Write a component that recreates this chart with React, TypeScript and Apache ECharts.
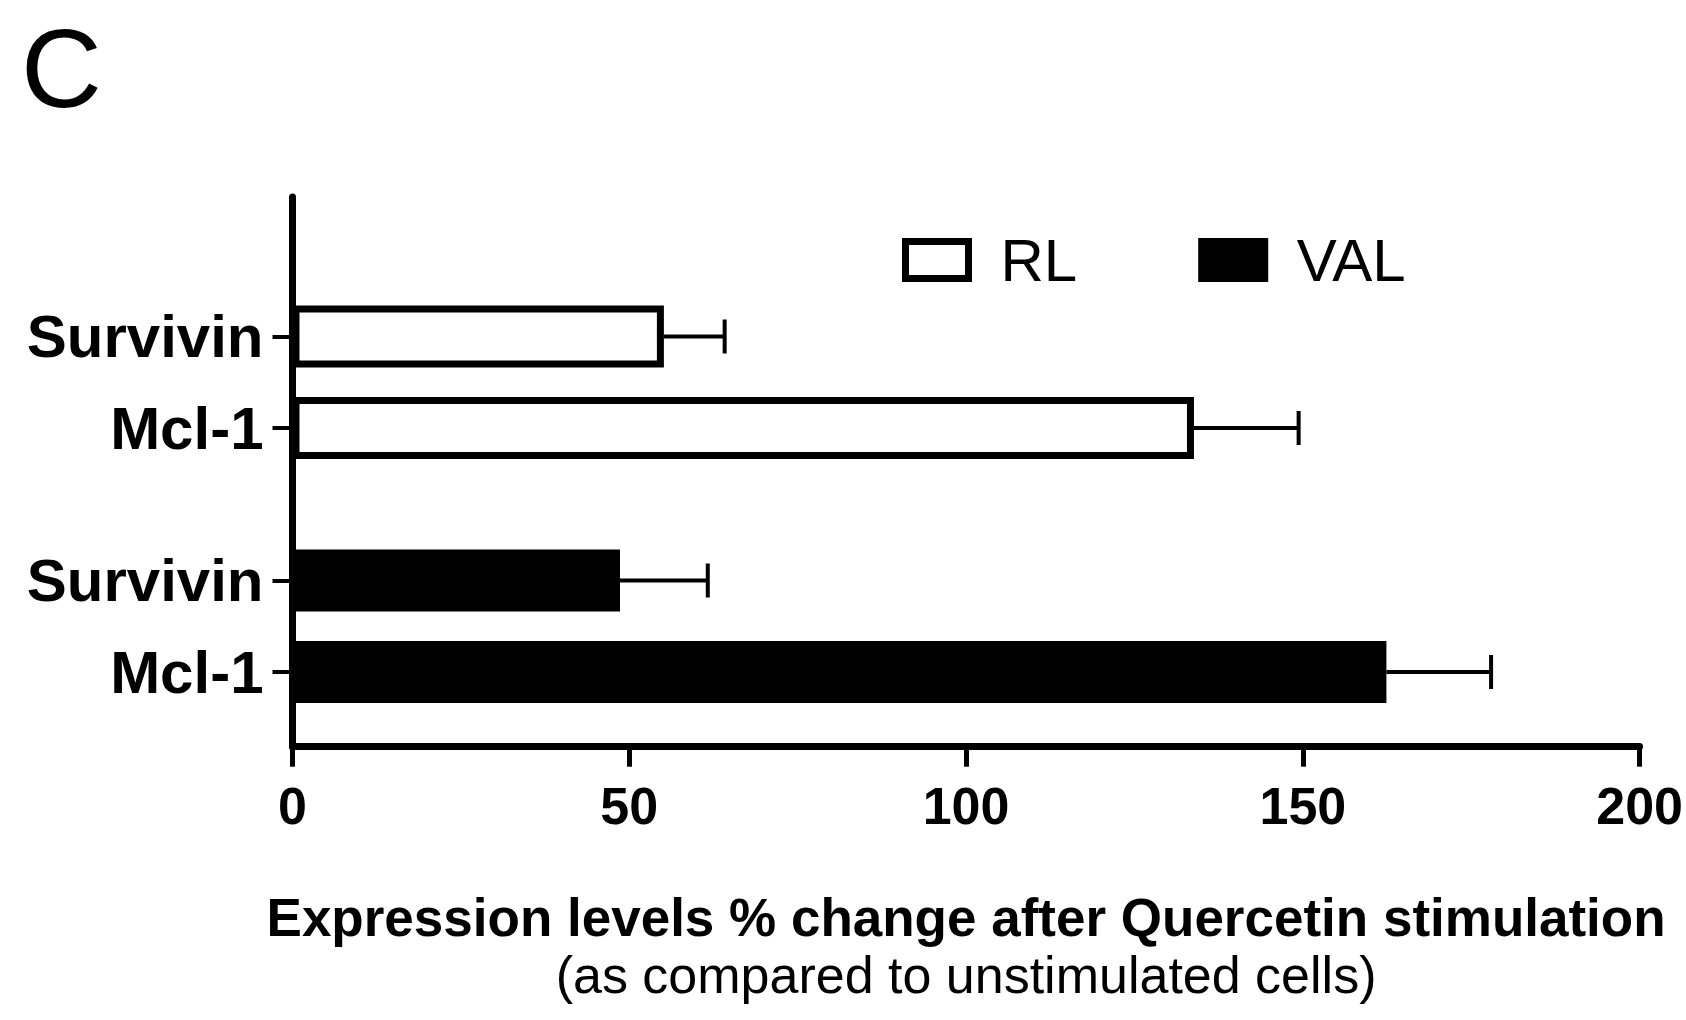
import React, { useEffect, useRef } from "react";
import * as echarts from "echarts";

const RL_CATEGORIES = ["Survivin", "Mcl-1"];
const VAL_CATEGORIES = ["Survivin", "Mcl-1"];
const RL_MEAN = [55, 133.5];
const RL_SEM = [9, 15.5];
const VAL_MEAN = [48.5, 162];
const VAL_SEM = [13, 15.5];
const X_MIN = 0;
const X_MAX = 200;
const X_INTERVAL = 50;
const LEGEND_NAMES = ["RL", "VAL"];
const PANEL_LETTER = "C";
const X_TITLE = "Expression levels % change after Quercetin stimulation";
const X_SUBTITLE = "(as compared to unstimulated cells)";

const FONT = "'Liberation Sans', Arial, Helvetica, sans-serif";

function errorSeries(name: string, idx: number, cats: string[], mean: number[], sem: number[]) {
  return {
    type: "custom",
    name,
    xAxisIndex: idx,
    yAxisIndex: idx,
    z: 5,
    silent: true,
    encode: { y: 0, x: [1, 2] },
    data: cats.map((_, i) => [i, mean[i], mean[i] + sem[i]]),
    renderItem: (params: any, api: any) => {
      const yi = api.value(0);
      const lo = api.value(1);
      const hi = api.value(2);
      const p0 = api.coord([lo, yi]);
      const p1 = api.coord([hi, yi]);
      const h = 17;
      return {
        type: "group",
        children: [
          { type: "line", shape: { x1: p0[0], y1: p0[1], x2: p1[0], y2: p1[1] }, style: { stroke: "#000", lineWidth: 4 } },
          { type: "line", shape: { x1: p1[0], y1: p1[1] - h, x2: p1[0], y2: p1[1] + h }, style: { stroke: "#000", lineWidth: 4 } },
        ],
      };
    },
  };
}

function catAxis(idx: number, cats: string[]) {
  return {
    type: "category",
    gridIndex: idx,
    inverse: true,
    data: cats,
    axisLine: { show: false },
    axisTick: { show: true, alignWithLabel: true, length: 20, lineStyle: { color: "#000", width: 4 } },
    axisLabel: { margin: 29, color: "#000", fontSize: 60, fontWeight: "bold", fontFamily: FONT },
    splitLine: { show: false },
  };
}

function hiddenX(idx: number) {
  return { type: "value", gridIndex: idx, min: X_MIN, max: X_MAX, interval: X_INTERVAL, show: false };
}

export default function App() {
  const ref = useRef<HTMLDivElement>(null);
  useEffect(() => {
    if (!ref.current) return;
    const chart = echarts.init(ref.current, null, { renderer: "svg" });
    const option: any = {
      animation: false,
      backgroundColor: "#fff",
      title: {
        text: PANEL_LETTER,
        left: 21,
        top: 13,
        padding: 0,
        textStyle: { fontSize: 112, lineHeight: 110, fontWeight: "normal", color: "#000", fontFamily: FONT },
      },
      legend: {
        left: 902,
        top: 230,
        padding: 0,
        icon: "rect",
        itemWidth: 63,
        itemHeight: 37,
        itemGap: 121,
        selectedMode: false,
        textStyle: { fontSize: 60, color: "#000", fontFamily: FONT, padding: [0, 0, 0, 27] },
        data: [
          { name: LEGEND_NAMES[0], itemStyle: { color: "#fff", borderColor: "#000", borderWidth: 7 } },
          { name: LEGEND_NAMES[1], itemStyle: { color: "#000", borderColor: "#000", borderWidth: 7 } },
        ],
      },
      grid: [
        { left: 292.5, right: 43, top: 197, bottom: 273.3 },
        { left: 292.5, right: 43, top: 290.75, bottom: 546.25 },
        { left: 292.5, right: 43, top: 534.75, bottom: 302.25 },
      ],
      xAxis: [
        {
          type: "value",
          gridIndex: 0,
          min: X_MIN,
          max: X_MAX,
          interval: X_INTERVAL,
          axisLine: { show: true, lineStyle: { color: "#000", width: 7 } },
          axisTick: { show: true, length: 20, lineStyle: { color: "#000", width: 5 } },
          axisLabel: { margin: 33, color: "#000", fontSize: 52, fontWeight: "bold", fontFamily: FONT },
          splitLine: { show: false },
          name: `{a|${X_TITLE}}\n{b|${X_SUBTITLE}}`,
          nameLocation: "middle",
          nameGap: 143,
          nameTextStyle: {
            color: "#000",
            rich: {
              a: { fontSize: 53, fontWeight: "bold", lineHeight: 56, color: "#000", fontFamily: FONT },
              b: { fontSize: 52, fontWeight: "normal", lineHeight: 58, color: "#000", fontFamily: FONT },
            },
          },
        },
        hiddenX(1),
        hiddenX(2),
      ],
      yAxis: [
        {
          type: "value",
          gridIndex: 0,
          min: 0,
          max: 1,
          axisLine: { show: true, lineStyle: { color: "#000", width: 7 } },
          axisTick: { show: false },
          axisLabel: { show: false },
          splitLine: { show: false },
        },
        catAxis(1, RL_CATEGORIES),
        catAxis(2, VAL_CATEGORIES),
      ],
      series: [
        {
          type: "bar",
          name: LEGEND_NAMES[0],
          xAxisIndex: 1,
          yAxisIndex: 1,
          barWidth: 62,
          data: RL_MEAN,
          itemStyle: { color: "#fff", borderColor: "#000", borderWidth: 7 },
        },
        {
          type: "bar",
          name: LEGEND_NAMES[1],
          xAxisIndex: 2,
          yAxisIndex: 2,
          barWidth: 62,
          data: VAL_MEAN,
          itemStyle: { color: "#000", borderColor: "#000", borderWidth: 7 },
        },
        errorSeries("RL error", 1, RL_CATEGORIES, RL_MEAN, RL_SEM),
        errorSeries("VAL error", 2, VAL_CATEGORIES, VAL_MEAN, VAL_SEM),
      ],
    };
    chart.setOption(option);
    return () => chart.dispose();
  }, []);
  return <div ref={ref} style={{ position: "fixed", left: 0, top: 0, width: 1686, height: 1020 }} />;
}
